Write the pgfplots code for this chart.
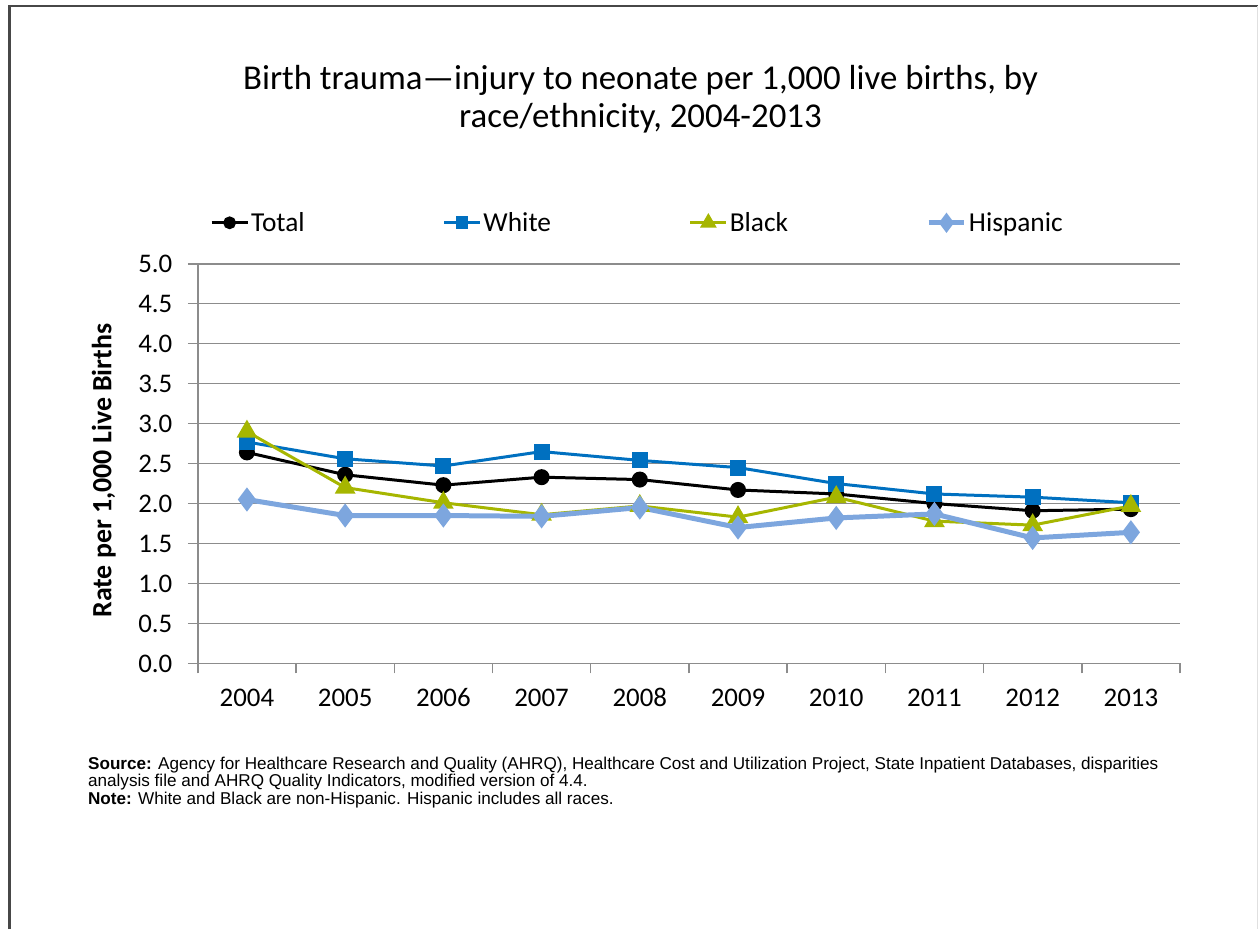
\documentclass[border=0pt]{standalone}
\usepackage{pgfplots}
\pgfplotsset{compat=1.18}
\usepackage{fontspec}
\setmainfont{Carlito}
\newfontfamily\arialfont{Liberation Sans}
\definecolor{cTotal}{RGB}{0,0,0}
\definecolor{cWhite}{RGB}{0,112,192}
\definecolor{cBlack}{RGB}{166,182,0}
\definecolor{cHisp}{RGB}{125,166,222}
\definecolor{gridgray}{RGB}{140,140,140}
\begin{document}
\begin{tikzpicture}[x=1bp,y=1bp]
\path (0,0) rectangle (1259,930);
\draw[line width=2.2bp, black!72] (9.5,0) -- (9.5,924) -- (1259,924);
\draw[line width=1bp, black!12] (1258.5,0) -- (1258.5,924);
% title
\node[align=center, font=\fontsize{35}{38}\selectfont] at (641,831)
  {Birth trauma---injury to neonate per 1,000 live births, by\\race/ethnicity, 2004-2013};
% y label
\node[rotate=90, font=\fontsize{28}{32}\selectfont\bfseries] at (104,459)
  {Rate per 1,000 Live Births};
\begin{axis}[
  at={(198bp,266bp)}, anchor=south west,
  scale only axis, width=983bp, height=400bp,
  xmin=-0.5, xmax=9.5, ymin=0, ymax=5,
  xtick={-0.5,0.5,...,9.5},
  x tick label as interval,
  xticklabels={2004,2005,2006,2007,2008,2009,2010,2011,2012,2013},
  ytick={0,0.5,...,5},
  yticklabel style={xshift=-12bp, /pgf/number format/fixed, /pgf/number format/fixed zerofill, /pgf/number format/precision=1},
  /pgf/number format/assume math mode=true,
  tick label style={font=\fontsize{27}{32}\selectfont},
  axis x line*=bottom, axis y line*=left,
  axis line style={draw=gridgray, line width=1.5bp, -},
  tick style={draw=gridgray, line width=1.5bp},
  tick align=outside, major tick length=10bp,
  ymajorgrids=true,
  grid style={draw=gridgray, line width=1.5bp},
  xticklabel style={yshift=-13bp, text height=17bp, text depth=0bp},
  legend columns=4,
  legend style={at={(0.4476,1.1025)}, anchor=center, draw=none, fill=none,
    font=\fontsize{27.5}{32}\selectfont,
    /tikz/every even column/.append style={column sep=136bp},
    /tikz/every odd column/.append style={column sep=0bp}},
  legend cell align=left,
  legend image code/.code={\draw[mark repeat=2, mark phase=2, mark options={scale=0.75}]
    plot coordinates {(0bp,0bp) (18bp,0bp) (36bp,0bp)};},
]
\addplot[cTotal, line width=3bp, mark=*, mark size=6.5bp] coordinates {
 (0,2.64) (1,2.36) (2,2.23) (3,2.33) (4,2.30) (5,2.17) (6,2.12) (7,2.00) (8,1.91) (9,1.93)};
\addlegendentry{Total}
\addplot[cWhite, line width=3bp, mark=square*, mark size=6.5bp] coordinates {
 (0,2.77) (1,2.56) (2,2.47) (3,2.65) (4,2.54) (5,2.45) (6,2.25) (7,2.12) (8,2.08) (9,2.01)};
\addlegendentry{White}
\addplot[cBlack, line width=3bp, mark=triangle*, mark size=9bp] coordinates {
 (0,2.90) (1,2.20) (2,2.01) (3,1.86) (4,1.97) (5,1.83) (6,2.08) (7,1.78) (8,1.73) (9,1.97)};
\addlegendentry{Black}
\addplot[cHisp, line width=5bp, mark=diamond*, mark size=8bp] coordinates {
 (0,2.05) (1,1.85) (2,1.85) (3,1.84) (4,1.95) (5,1.70) (6,1.82) (7,1.87) (8,1.57) (9,1.64)};
\addlegendentry{Hispanic}
\end{axis}
% footnote
\begin{scope}[every node/.style={anchor=base west, inner sep=0pt, font=\arialfont\fontsize{17.2}{18}\selectfont}]
\node at (88,160) {\textbf{Source:} Agency for Healthcare Research and Quality (AHRQ), Healthcare Cost and Utilization Project, State Inpatient Databases, disparities};
\node at (88,142.5) {analysis file and AHRQ Quality Indicators, modified version of 4.4.};
\node at (88,125) {\textbf{Note:} White and Black are non-Hispanic. Hispanic includes all races.};
\end{scope}
\end{tikzpicture}
\end{document}
